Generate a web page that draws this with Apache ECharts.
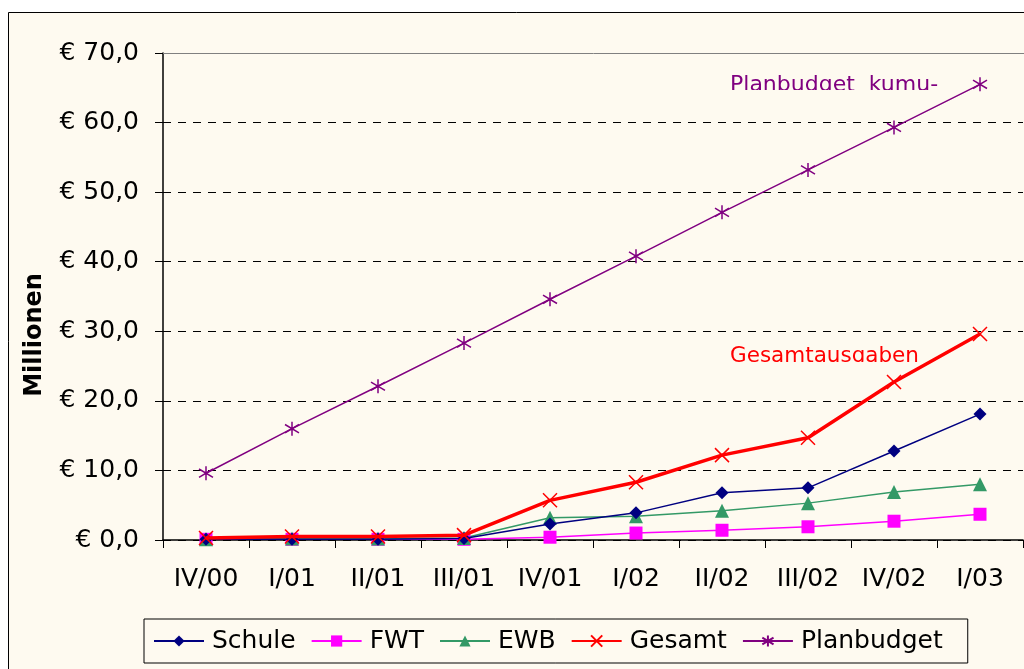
<!DOCTYPE html>
<html><head><meta charset="utf-8">
<script src="https://cdn.jsdelivr.net/npm/echarts@6/dist/echarts.min.js"></script>
<style>html,body{margin:0;padding:0;background:#fff}#c{width:1024px;height:669px}</style>
</head><body><div id="c"></div>
<script>
const categories = ['IV/00','I/01','II/01','III/01','IV/01','I/02','II/02','III/02','IV/02','I/03'];
const schule     = [0.1, 0.1, 0.1, 0.2, 2.3, 3.9, 6.8, 7.5, 12.8, 18.1];
const fwt        = [0.1, 0.1, 0.1, 0.1, 0.4, 1.0, 1.4, 1.9, 2.7, 3.7];
const ewb        = [0.1, 0.2, 0.2, 0.3, 3.2, 3.4, 4.2, 5.3, 6.9, 8.0];
const gesamt     = [0.3, 0.5, 0.5, 0.7, 5.7, 8.3, 12.2, 14.7, 22.7, 29.6];
const planbudget = [9.6, 16.0, 22.1, 28.3, 34.6, 40.8, 47.1, 53.2, 59.3, 65.5];
const yTickLabels = ['€ 0,0','€ 10,0','€ 20,0','€ 30,0','€ 40,0','€ 50,0','€ 60,0','€ 70,0'];

const chart = echarts.init(document.getElementById('c'), null, {renderer:'canvas'});
const F = '"DejaVu Sans", Verdana, sans-serif';
const BG = '#FEFAF0';
const X_SYM = 'path://M0,0L10,10M10,0L0,10';
const AST_SYM = 'path://M5,0L5,10M0,2L10,8M10,2L0,8';
chart.setOption({
  animation:false,
  backgroundColor:'#ffffff',
  graphic:[
    {type:'rect', z:-10, shape:{x:8.5,y:12.5,width:1030,height:670}, style:{fill:BG, stroke:'#000', lineWidth:1}},
    {type:'line', z:1, shape:{x1:163,y1:53.5,x2:1024,y2:53.5}, style:{stroke:'#808080', lineWidth:1}},
    {type:'text', x:35, y:335, rotation:Math.PI/2, z:10,
      style:{text:'Millionen', fill:'#000', font:'bold 24px "DejaVu Sans", sans-serif', align:'center', verticalAlign:'middle'}},
    {type:'text', x:730, y:74, z:10, style:{text:'Planbudget  kumu-', fill:'#800080', font:'22px "DejaVu Sans", Verdana, sans-serif', verticalAlign:'top'}},
    {type:'rect', z:11, shape:{x:725,y:90,width:220,height:9}, style:{fill:BG}},
    {type:'text', x:730, y:345, z:10, style:{text:'Gesamtausgaben', fill:'#FF0000', font:'21.5px "DejaVu Sans", Verdana, sans-serif', verticalAlign:'top'}},
    {type:'rect', z:11, shape:{x:725,y:362,width:188,height:6}, style:{fill:BG}}
  ],
  grid:{left:163, top:53, right:1, bottom:129, containLabel:false},
  legend:{
    top:619, left:144, itemGap:15, itemWidth:50, itemHeight:14,
    padding:[8,25,8,9],
    borderColor:'#000', borderWidth:1, backgroundColor:BG,
    textStyle:{fontFamily:F, fontSize:25, color:'#000', lineHeight:28, padding:[0,0,0,3]},
    data:['Schule','FWT','EWB','Gesamt','Planbudget']
  },
  xAxis:{
    type:'category', data:categories, boundaryGap:true,
    axisLine:{lineStyle:{color:'#000', width:1.5}},
    axisTick:{show:true, length:8, lineStyle:{color:'#000'}},
    axisLabel:{fontFamily:F, fontSize:25, color:'#000', margin:27},
    splitLine:{show:false}
  },
  yAxis:{
    type:'value', min:0, max:70, interval:10,
    axisLine:{show:true, lineStyle:{color:'#000', width:1.5}},
    axisTick:{show:true, length:8, lineStyle:{color:'#000'}},
    axisLabel:{fontFamily:F, fontSize:25, color:'#000', margin:24,
      formatter:(v)=>yTickLabels[Math.round(v/10)]},
    splitLine:{show:true, lineStyle:{color:'#000', type:[8,7], width:1}}
  },
  series:[
    {name:'Schule', type:'line', data:schule, symbol:'diamond', symbolSize:13,
      itemStyle:{color:'#000080'}, lineStyle:{color:'#000080', width:1.5}, z:3},
    {name:'FWT', type:'line', data:fwt, symbol:'rect', symbolSize:13,
      itemStyle:{color:'#FF00FF'}, lineStyle:{color:'#FF00FF', width:1.5}, z:2},
    {name:'EWB', type:'line', data:ewb, symbol:'triangle', symbolSize:14,
      itemStyle:{color:'#339966'}, lineStyle:{color:'#339966', width:1.5}, z:2},
    {name:'Gesamt', type:'line', data:gesamt, symbol:X_SYM, symbolSize:14,
      itemStyle:{color:'#FF0000', borderColor:'#FF0000', borderWidth:1.5}, lineStyle:{color:'#FF0000', width:3.5}, z:4},
    {name:'Planbudget', type:'line', data:planbudget, symbol:AST_SYM, symbolSize:14,
      itemStyle:{color:'#800080', borderColor:'#800080', borderWidth:1.5}, lineStyle:{color:'#800080', width:1.5}, z:4}
  ]
});
</script></body></html>
